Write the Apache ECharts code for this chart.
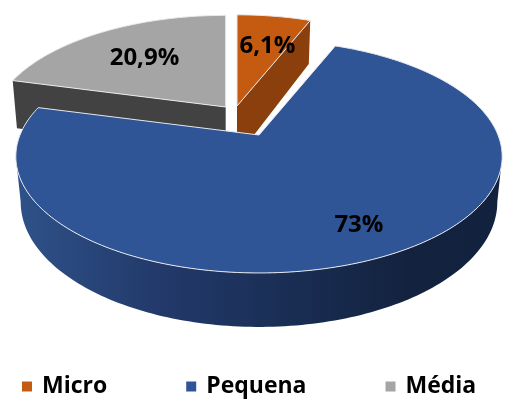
<!DOCTYPE html>
<html><head><meta charset="utf-8">
<style>html,body{margin:0;padding:0;background:#fff}#c{width:508px;height:418px}</style>
<script src="https://cdn.jsdelivr.net/npm/echarts@6/dist/echarts.min.js"></script>
</head><body><div id="c"></div>
<script>
const categories = ['Micro', 'Pequena', 'Média'];
const values = [6.1, 73, 20.9];
const labels = ['6,1%', '73%', '20,9%'];

const topColors = ['#C55A11', '#2F5597', '#A5A5A5'];
const faceColors = ['#8A3F0D', null, '#424242'];
// per-slice layout of the exploded 3D view: apex, scale, extrusion, label placement
const apexX = [237, 259, 225.7];
const apexY = [106, 135, 107];
const scales = [0.96, 1, 0.965];
const depths = [51, 44, 50];
const labelRadius = [0.65, 0.78, 0.63];
const labelShift = [[5, 2], [4, 0], [0, 1]];
const zOrder = [1, 3, 2];
// perspective projection of the disc
const RX = 239, RY = 112.5, K = 0.1845, BOTTOM_SHRINK = 0.98;

const total = values.reduce((a, b) => a + b, 0);
const starts = values.map((_, i) => values.slice(0, i).reduce((a, b) => a + b, 0) / total * 2 * Math.PI);
const ends = starts.map((s, i) => s + values[i] / total * 2 * Math.PI);

function proj(i, theta, r, bottom) {
  const u = r * Math.sin(theta), v = r * Math.cos(theta), w = 1 + K * v;
  const s = scales[i] * (bottom ? BOTTOM_SHRINK : 1);
  return [apexX[i] + RX * s * u / w,
          apexY[i] - RY * scales[i] * v / w + (bottom ? depths[i] / w : 0)];
}
function arc(i, a, b, bottom) {
  const pts = [], n = Math.max(2, Math.ceil(Math.abs(b - a) / 0.02));
  for (let j = 0; j <= n; j++) pts.push(proj(i, a + (b - a) * j / n, 1, bottom));
  return pts;
}
function renderSlice(idx, params, api) {
  const i = idx, a = starts[i], b = ends[i], children = [];
  if (i === 0) { // cut face visible at the end of Micro
    children.push({type: 'polygon', shape: {points: [proj(i, b, 0, false), proj(i, b, 1, false), proj(i, b, 1, true), proj(i, b, 0, true)]},
      style: {fill: faceColors[i]}});
  }
  if (i === 2) { // cut face visible at the start of Média
    children.push({type: 'polygon', shape: {points: [proj(i, a, 0, false), proj(i, a, 1, false), proj(i, a, 1, true), proj(i, a, 0, true)]},
      style: {fill: faceColors[i]}});
  }
  if (i === 1) { // outer wall of the front of the disc
    const t1 = Math.acos(-K), t2 = 2 * Math.PI - t1;
    const pts = arc(i, t1, t2, false).concat(arc(i, t2, t1, true));
    children.push({type: 'polygon', shape: {points: pts},
      style: {fill: new echarts.graphic.LinearGradient(0, 0, 1, 0, [
        {offset: 0, color: '#2E5289'}, {offset: 0.3, color: '#22396A'},
        {offset: 0.55, color: '#1A2E55'}, {offset: 0.8, color: '#13233F'}, {offset: 1, color: '#12223E'}])}});
  }
  children.push({type: 'polygon', shape: {points: [proj(i, a, 0, false)].concat(arc(i, a, b, false))},
    style: {fill: topColors[i], stroke: '#E6E9EE', lineWidth: 1, lineJoin: 'round'}});
  const mid = (a + b) / 2, lp = proj(i, mid, labelRadius[i], false);
  children.push({type: 'text', z2: 10, style: {text: labels[i], x: lp[0] + labelShift[i][0], y: lp[1] + labelShift[i][1],
    align: 'center', verticalAlign: 'middle', fill: '#000', font: 'bold 24px "Open Sans"'}});
  return {type: 'group', children};
}

const chart = echarts.init(document.getElementById('c'), null, {renderer: 'canvas'});
chart.setOption({
  animation: false,
  legend: {
    data: categories, left: 17, top: 370, itemGap: 79, itemWidth: 10, itemHeight: 10, icon: 'rect',
    textStyle: {fontFamily: 'Open Sans', fontWeight: 'bold', fontSize: 23, color: '#000', padding: [0, 0, 0, 5]}
  },
  series: categories.map((name, i) => ({
    type: 'custom', name, coordinateSystem: 'none', z: zOrder[i], silent: true,
    itemStyle: {color: topColors[i]},
    data: [[values[i]]],
    renderItem: (p, api) => renderSlice(i, p, api)
  }))
});
</script></body></html>
